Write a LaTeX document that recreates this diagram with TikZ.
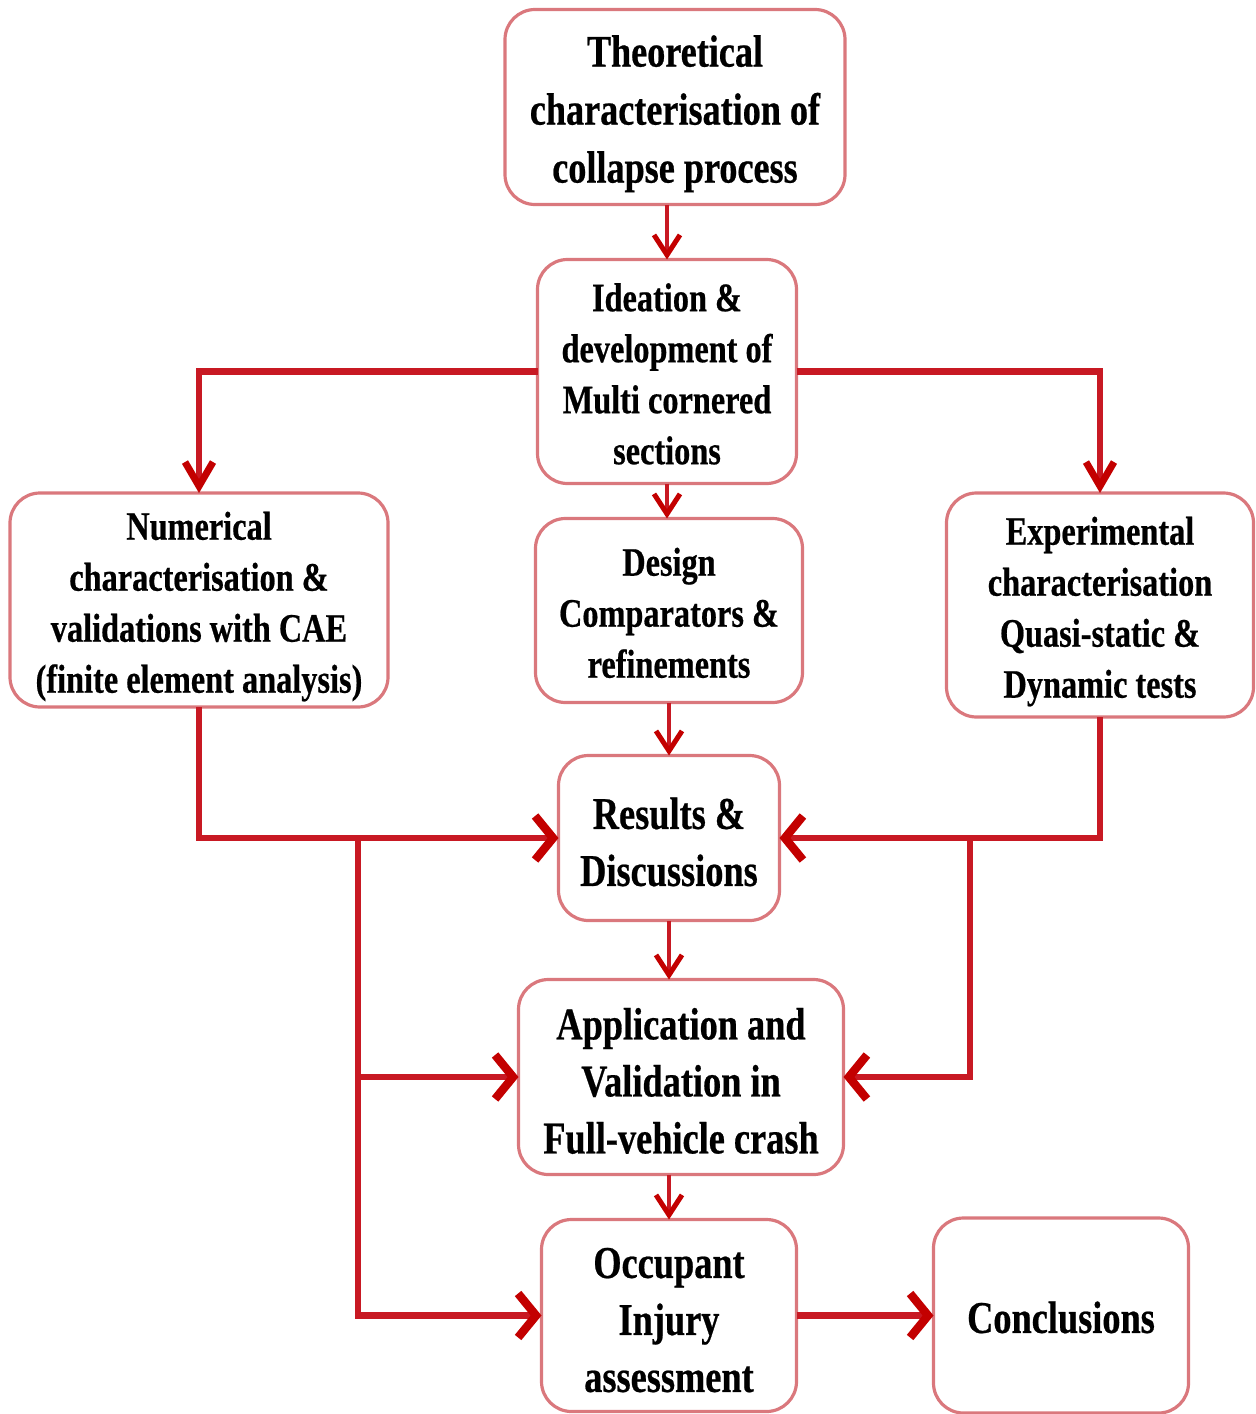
\documentclass[tikz,border=0pt]{standalone}
\usepackage{fontspec}
\setmainfont{Liberation Serif}[FakeStretch=0.8, FakeBold=0.5]
\usetikzlibrary{positioning}
\usetikzlibrary{arrows.meta}
\definecolor{boxred}{RGB}{218,120,125}
\definecolor{linkred}{RGB}{200,25,35}
\definecolor{tipred}{RGB}{195,0,0}
\newcommand{\toptext}{\fontsize{22.6pt}{29pt}\selectfont\bfseries}
\newcommand{\midtext}{\fontsize{20.2pt}{25.5pt}\selectfont\bfseries}
\newcommand{\bigtext}{\fontsize{22.7pt}{28.5pt}\selectfont\bfseries}
% text set a little lower in its box
\newcommand{\lowered}[2][3pt]{\raisebox{-#1}[\height][\depth]{\begin{tabular}{@{}c@{}}#2\end{tabular}}}
\tikzset{x=0.5pt, y=-0.5pt,
box/.style={
draw=boxred,
line width=1.6pt,
rounded corners=15pt,
align=center,
outer sep=0pt,
inner sep=0pt},
link/.style={
draw=linkred,
line width=3.2pt},
small link/.style={
draw=linkred,
line width=2pt,
-{Straight Barb[length=10pt, width=13pt, line width=2.5pt, color=tipred]}},
down link/.style={link,
-{Straight Barb[length=12pt, width=14pt, line width=3.5pt, color=tipred]}},
side link/.style={link,
-{Straight Barb[length=9pt, width=22pt, line width=4.2pt, color=tipred]}}}

\begin{document}
\begin{tikzpicture}
\useasboundingbox (0,0) rectangle (1255,1414);
\node[box, minimum width=170pt, minimum height=97.5pt, font=\toptext] (theo) at (675,107) {\lowered{Theoretical\\characterisation of\\collapse process}};
\node[box, minimum width=129.5pt, minimum height=112pt, font=\midtext, below=27.5pt of theo, xshift=-4pt] (idea) {\lowered{Ideation \&\\development of\\Multi cornered\\sections}};
\node[box, minimum width=133.5pt, minimum height=92pt, font=\midtext, below=17.5pt of idea, xshift=1pt] (design) {\lowered{Design\\Comparators \&\\refinements}};
\node[box, minimum width=189pt, minimum height=107pt, font=\midtext] (num) at (199,600) {\lowered{Numerical\\characterisation \&\\validations with CAE\\(finite element analysis)}};
\node[box, minimum width=153.5pt, minimum height=112pt, font=\midtext] (exp) at (1100,605) {\lowered{Experimental\\characterisation\\Quasi-static \&\\Dynamic tests}};
\node[box, minimum width=110.5pt, minimum height=82.5pt, font=\bigtext, below=26.5pt of design] (res) {\lowered[4pt]{Results \&\\Discussions}};
\node[box, minimum width=162.5pt, minimum height=97.5pt, font=\bigtext, below=29.5pt of res, xshift=6pt] (app) {\lowered[4pt]{Application and\\Validation in\\Full-vehicle crash}};
\node[box, minimum width=127.5pt, minimum height=96pt, font=\bigtext, below=22.5pt of app, xshift=-6pt] (occ) {\lowered[4pt]{Occupant\\Injury\\assessment}};
\node[box, minimum width=127.5pt, minimum height=97.5pt, font=\bigtext, right=68.5pt of occ] (concl) {\lowered{Conclusions}};
% top part
\draw[small link] (theo.south -| idea.north) -- (idea.north);
\draw[down link] (idea.west) -| (num.north);
\draw[down link] (idea.east) -| (exp.north);
\draw[small link] (idea.south) -- (idea.south |- design.north);
\draw[small link] (design.south) -- (design.south |- res.north);
% left branch
\draw[side link] (num.south) |- (res.west);
\coordinate (lsplit) at (358,0 |- res.west);
\draw[side link] (lsplit) |- (app.west);
\draw[side link] (lsplit) |- (occ.west);
% right branch
\draw[side link] (exp.south) |- (res.east);
\coordinate (rsplit) at (970,0 |- res.east);
\draw[side link] (rsplit) |- (app.east);
% bottom part
\draw[small link] (res.south) -- (res.south |- app.north);
\draw[small link] (occ.north |- app.south) -- (occ.north);
\draw[side link] (occ.east) -- (occ.east -| concl.west);
\end{tikzpicture}
\end{document}
